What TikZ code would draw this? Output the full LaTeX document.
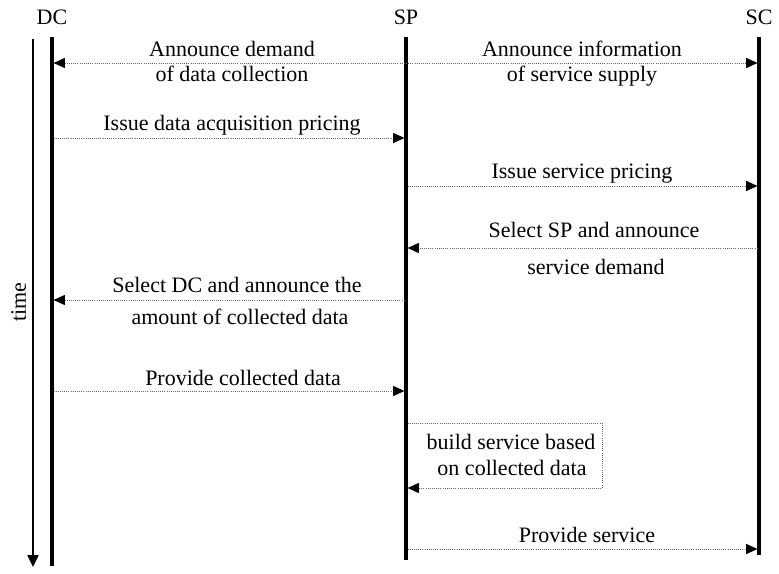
\documentclass[tikz,border=0pt]{standalone}
\usepackage{fontspec}
\setmainfont{Liberation Serif}
\usetikzlibrary{arrows.meta}
\begin{document}
\begin{tikzpicture}[x=0.75pt,y=-0.75pt,
  >={Triangle[length=8.5pt,width=7.5pt,color=black]},
  lifeline/.style={line width=2.3pt},
  msg/.style={densely dotted, line width=0.6pt, draw=black!60, ->},
  bimsg/.style={densely dotted, line width=0.6pt, draw=black!60, <->},
  lbl/.style={font=\fontsize{16.5}{19}\selectfont, inner sep=0pt, anchor=base},
  head/.style={lbl}]
\useasboundingbox (0,0) rectangle (779,574);

% participants
\node[head] (hDC) at (52,25) {DC};
\node[head] (hSP) at (406,25) {SP};
\node[head] (hSC) at (759,25) {SC};

% lifelines
\coordinate (dcT) at (52,37);  \coordinate (dcB) at (52,566);
\coordinate (spT) at (406,37); \coordinate (spB) at (406,560);
\coordinate (scT) at (759,37); \coordinate (scB) at (759,555);
\draw[lifeline] (dcT) -- (dcB);
\draw[lifeline] (spT) -- (spB);
\draw[lifeline] (scT) -- (scB);

% time axis
\coordinate (tT) at (33,39); \coordinate (tB) at (33,567);
\draw[line width=1pt, -{Triangle[length=9pt,width=8.5pt]}] (tT) -- (tB);
\node[lbl, rotate=90, anchor=base] (time) at (26,302) {time};

% message end points
\coordinate (m1a) at (53.5,63);  \coordinate (m1b) at (757.5,63);
\coordinate (m2a) at (53.5,138); \coordinate (m2b) at (404.5,138);
\coordinate (m3a) at (407.5,186); \coordinate (m3b) at (757.5,186);
\coordinate (m4a) at (757.5,248); \coordinate (m4b) at (407.5,248);
\coordinate (m5a) at (404.5,300); \coordinate (m5b) at (53.5,300);
\coordinate (m6a) at (53.5,391); \coordinate (m6b) at (404.5,391);
\coordinate (m7a) at (407.5,423); \coordinate (m7b) at (407.5,488);
\coordinate (m8a) at (407.5,549); \coordinate (m8b) at (757.5,549);

% messages
\draw[bimsg] (m1a) -- (m1b);
\draw[msg] (m2a) -- (m2b);
\draw[msg] (m3a) -- (m3b);
\draw[msg] (m4a) -- (m4b);
\draw[msg] (m5a) -- (m5b);
\draw[msg] (m6a) -- (m6b);
\draw[msg] (m7a) -- (602,423) -- (602,488) -- (m7b);
\draw[msg] (m8a) -- (m8b);

% labels
\node[lbl] (l1a) at (232,57) {Announce demand};
\node[lbl] (l1b) at (232,82) {of data collection};
\node[lbl] (l1c) at (582,57) {Announce information};
\node[lbl] (l1d) at (582,82) {of service supply};
\node[lbl] (l2) at (232,131) {Issue data acquisition pricing};
\node[lbl] (l3) at (582,179) {Issue service pricing};
\node[lbl] (l4a) at (594,238) {Select SP and announce};
\node[lbl] (l4b) at (596,275) {service demand};
\node[lbl] (l5a) at (237,293) {Select DC and announce the};
\node[lbl] (l5b) at (240,325) {amount of collected data};
\node[lbl] (l6) at (243,385) {Provide collected data};
\node[lbl] (l7a) at (511,449) {build service based};
\node[lbl] (l7b) at (512,475) {on collected data};
\node[lbl] (l8) at (587,542) {Provide service};
\end{tikzpicture}
\end{document}
